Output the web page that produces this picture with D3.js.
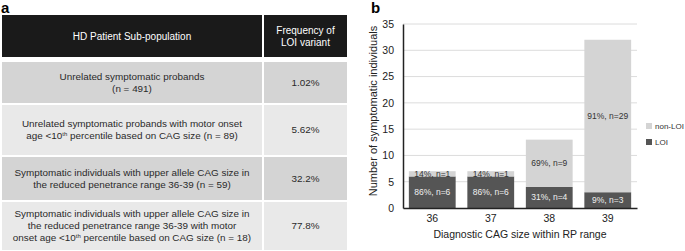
<!DOCTYPE html>
<html>
<head>
<meta charset="utf-8">
<script src="https://cdn.jsdelivr.net/npm/d3@7"></script>
<style>
  body { margin: 0; background: #fff; }
  svg { font-family: "Liberation Sans", Arial, sans-serif; }
</style>
</head>
<body>
<div id="chart"></div>
<script>
// panel a - table
var headers = ["HD Patient Sub-population", "Frequency of|LOI variant"];
var subPops = [
    "Unrelated symptomatic probands|(n = 491)",
    "Unrelated symptomatic probands with motor onset|age <10^th percentile based on CAG size (n = 89)",
    "Symptomatic individuals with upper allele CAG size in|the reduced penetrance range 36-39 (n = 59)",
    "Symptomatic individuals with upper allele CAG size in|the reduced penetrance range 36-39 with motor|onset age <10^th percentile based on CAG size (n = 18)"
];
var freqs = ["1.02%", "5.62%", "32.2%", "77.8%"];

// panel b - stacked bars
var cagSizes = ["36", "37", "38", "39"];
var loi = [6, 6, 4, 3];
var nonLoi = [1, 1, 9, 29];
var loiLabels = ["86%, n=6", "86%, n=6", "31%, n=4", "9%, n=3"];
var nonLoiLabels = ["14%, n=1", "14%, n=1", "69%, n=9", "91%, n=29"];
var yTicks = [0, 5, 10, 15, 20, 25, 30, 35];

var width = 685, height = 251;

var svg = d3.select("#chart").append("svg")
    .attr("width", width)
    .attr("height", height);

// panel letters
svg.append("text").attr("x", 1).attr("y", 13)
    .style("font-size", "15px").style("font-weight", "bold").text("a");
svg.append("text").attr("x", 371).attr("y", 13)
    .style("font-size", "15px").style("font-weight", "bold").text("b");

// ---- table ----
var colX = [2, 264], colW = [260, 83];
var rowY = [62, 105, 157, 202], rowH = [41, 50, 43, 48];
var rowFill = ["#d4d4d4", "#e9e9e9", "#d4d4d4", "#e9e9e9"];
var lineH = 12;

// writes lines split by "|", "^xx" is a superscript
function multiline(g, str, cx, cy, color, size) {
    var lines = str.split("|");
    lines.forEach(function (ln, i) {
        var t = g.append("text")
            .attr("x", cx)
            .attr("y", cy + (i - (lines.length - 1) / 2) * lineH)
            .attr("dy", "0.35em")
            .attr("text-anchor", "middle")
            .style("font-size", size + "px")
            .style("fill", color);
        var parts = ln.split(/\^(\w+)/);
        parts.forEach(function (p, k) {
            if (k % 2 === 1) {
                t.append("tspan").attr("baseline-shift", "super")
                    .style("font-size", (size * 0.6) + "px").text(p);
            } else if (p.length) {
                t.append("tspan").text(p);
            }
        });
    });
}

var tbl = svg.append("g");
headers.forEach(function (h, c) {
    tbl.append("rect").attr("x", colX[c]).attr("y", 15)
        .attr("width", colW[c]).attr("height", 42).attr("fill", "#1a1a1a");
    multiline(tbl, h, colX[c] + colW[c] / 2, 36, "#fff", 10);
});

subPops.forEach(function (s, r) {
    tbl.append("rect").attr("x", colX[0]).attr("y", rowY[r])
        .attr("width", colW[0]).attr("height", rowH[r]).attr("fill", rowFill[r]);
    tbl.append("rect").attr("x", colX[1]).attr("y", rowY[r])
        .attr("width", colW[1]).attr("height", rowH[r]).attr("fill", rowFill[r]);
    multiline(tbl, s, colX[0] + colW[0] / 2, rowY[r] + rowH[r] / 2, "#2a2a2a", 9.9);
    multiline(tbl, freqs[r], colX[1] + colW[1] / 2, rowY[r] + rowH[r] / 2, "#2a2a2a", 9.9);
});

// ---- bar chart ----
var m = { left: 403, right: 637, top: 24, bottom: 208 };

var x = d3.scaleBand()
    .domain(cagSizes)
    .range([m.left, m.right])
    .paddingInner(0.2)
    .paddingOuter(0.1);

var y = d3.scaleLinear()
    .domain([0, 35])
    .range([m.bottom, m.top]);

var chart = svg.append("g");

// grid
chart.selectAll(".grid").data(yTicks.slice(1)).enter()
    .append("line")
    .attr("x1", m.left).attr("x2", m.right)
    .attr("y1", d => y(d)).attr("y2", d => y(d))
    .attr("stroke", "#dcdcdc").attr("stroke-width", 1);

var stackData = cagSizes.map((c, i) => ({ cag: c, loi: loi[i], non: nonLoi[i], i: i }));

chart.selectAll(".loi").data(stackData).enter()
    .append("rect")
    .attr("x", d => x(d.cag))
    .attr("width", x.bandwidth())
    .attr("y", d => y(d.loi))
    .attr("height", d => y(0) - y(d.loi))
    .attr("fill", "#555555");

chart.selectAll(".non").data(stackData).enter()
    .append("rect")
    .attr("x", d => x(d.cag))
    .attr("width", x.bandwidth())
    .attr("y", d => y(d.loi + d.non))
    .attr("height", d => y(d.loi) - y(d.loi + d.non))
    .attr("fill", "#d4d4d4");

// bar labels
chart.selectAll(".lblLoi").data(stackData).enter()
    .append("text")
    .attr("x", d => x(d.cag) + x.bandwidth() / 2)
    .attr("y", d => (y(0) + y(d.loi)) / 2 + 3)
    .attr("text-anchor", "middle")
    .style("font-size", "8.5px")
    .style("fill", "#f0f0f0")
    .text(d => loiLabels[d.i]);

chart.selectAll(".lblNon").data(stackData).enter()
    .append("text")
    .attr("x", d => x(d.cag) + x.bandwidth() / 2)
    .attr("y", d => d.non < 3 ? y(d.loi + d.non) + 6 : (y(d.loi) + y(d.loi + d.non)) / 2 + 3)
    .attr("text-anchor", "middle")
    .style("font-size", "8.5px")
    .style("fill", "#333")
    .text(d => nonLoiLabels[d.i]);

// axes
var yAxis = chart.append("g")
    .attr("transform", "translate(" + m.left + ",0)")
    .call(d3.axisLeft(y).tickValues(yTicks).tickSize(0).tickPadding(9));
yAxis.select(".domain").attr("stroke", "#222").attr("stroke-width", 1.5);
yAxis.selectAll("text").style("font-size", "10.5px").style("fill", "#222")
    .style("font-family", "Liberation Sans, Arial, sans-serif");

var xAxis = chart.append("g")
    .attr("transform", "translate(0," + m.bottom + ")")
    .call(d3.axisBottom(x).tickSize(0).tickPadding(7));
xAxis.select(".domain").attr("stroke", "#222").attr("stroke-width", 1.5);
xAxis.selectAll("text").style("font-size", "10.5px").style("fill", "#222")
    .style("font-family", "Liberation Sans, Arial, sans-serif");

chart.append("text")
    .attr("x", (m.left + m.right) / 2)
    .attr("y", 238)
    .attr("text-anchor", "middle")
    .style("font-size", "10.5px").style("fill", "#222")
    .text("Diagnostic CAG size within RP range");

chart.append("text")
    .attr("transform", "translate(377,111) rotate(-90)")
    .attr("text-anchor", "middle")
    .style("font-size", "11px").style("fill", "#222")
    .text("Number of symptomatic individuals");

// legend
var legend = [["non-LOI", "#d4d4d4"], ["LOI", "#555555"]];
legend.forEach(function (l, i) {
    svg.append("rect").attr("x", 646).attr("y", 123 + i * 16)
        .attr("width", 6).attr("height", 6).attr("fill", l[1]);
    svg.append("text").attr("x", 655).attr("y", 129 + i * 16)
        .style("font-size", "8px").style("fill", "#333").text(l[0]);
});
</script>
</body>
</html>
